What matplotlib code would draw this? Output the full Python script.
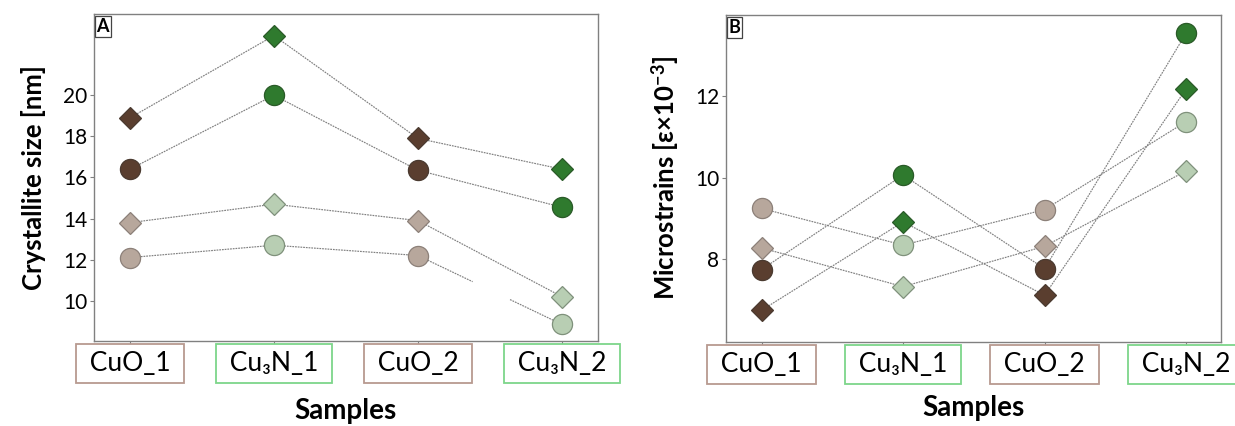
import numpy as np
import matplotlib
matplotlib.use('Agg')
import matplotlib.pyplot as plt

plt.rcParams['font.family'] = ['Lato', 'DejaVu Sans']
plt.rcParams['mathtext.fontset'] = 'custom'
plt.rcParams['mathtext.rm'] = 'Lato'
plt.rcParams['mathtext.it'] = 'Lato:italic'
plt.rcParams['mathtext.bf'] = 'Lato:bold'

# ---------------------------------------------------------------------------
# Data
# ---------------------------------------------------------------------------
samples = ['CuO_1', 'Cu₃N_1', 'CuO_2', 'Cu₃N_2']
is_nitride = [False, True, False, True]

# panel A: crystallite size [nm]
size_dark_diamond  = [18.9, 22.9, 17.9, 16.4]
size_dark_circle   = [16.4, 20.0, 16.35, 14.55]
size_light_diamond = [13.8, 14.7, 13.9, 10.2]
size_light_circle  = [12.1, 12.7, 12.2, 8.85]

# panel B: microstrains [x1e-3]
strain_dark_circle   = [7.75, 10.07, 7.77, 13.55]
strain_dark_diamond  = [6.75, 8.92, 7.12, 12.18]
strain_light_circle  = [9.25, 8.35, 9.22, 11.38]
strain_light_diamond = [8.28, 7.33, 8.32, 10.17]

# ---------------------------------------------------------------------------
# Style
# ---------------------------------------------------------------------------
DARK_BROWN  = '#5a3e2f'
LIGHT_BROWN = '#b7a79c'
DARK_GREEN  = '#2f7a2e'
LIGHT_GREEN = '#b8ceb3'
EDGE_DARK   = '#4a3a30'
EDGE_LIGHT  = '#8c8079'
LINE_COL    = '#808080'
BOX_CuO     = '#b89a90'
BOX_Cu3N    = '#7dd68a'
SPINE_COL   = '#808080'
LS          = (0, (1.5, 0.8))

x = np.arange(len(samples))


def series(ax, vals, marker, dark, gap=None):
    vals = np.asarray(vals, dtype=float)
    if gap is None:
        ax.plot(x, vals, ls=LS, lw=0.85, color=LINE_COL, zorder=1)
    else:
        # last segment is broken in the original figure
        ax.plot(x[:-1], vals[:-1], ls=LS, lw=0.85, color=LINE_COL, zorder=1)
        f0, f1 = gap
        xa, xb = x[-2], x[-1]
        ya, yb = vals[-2], vals[-1]
        ax.plot([xa, xa + f0 * (xb - xa)], [ya, ya + f0 * (yb - ya)],
                ls=LS, lw=0.85, color=LINE_COL, zorder=1)
        ax.plot([xa + f1 * (xb - xa), xb], [ya + f1 * (yb - ya), yb],
                ls=LS, lw=0.85, color=LINE_COL, zorder=1)
    for xi, v, nit in zip(x, vals, is_nitride):
        if dark:
            fc = DARK_GREEN if nit else DARK_BROWN
            ec = '#2a5a28' if nit else EDGE_DARK
        else:
            fc = LIGHT_GREEN if nit else LIGHT_BROWN
            ec = '#7f917b' if nit else EDGE_LIGHT
        ms = 11.2 if marker == 'D' else 14.5
        ax.plot(xi, v, marker=marker, ms=ms, mfc=fc, mec=ec, mew=0.9,
                ls='none', zorder=3)


def style_axes(ax, letter, ylabel, ylim, yticks, ylabelpad, xlabelpad):
    ax.set_xlim(-0.25, 3.25)
    ax.set_ylim(*ylim)
    ax.set_yticks(yticks)
    ax.set_xticks(x)
    ax.set_xticklabels([' ' + s + ' ' for s in samples])
    for sp in ax.spines.values():
        sp.set_color(SPINE_COL)
        sp.set_linewidth(1.0)
    ax.tick_params(axis='y', labelsize=15, length=3, width=0.8, color=SPINE_COL, pad=2)
    ax.tick_params(axis='x', labelsize=19, length=3, width=0.8, color=SPINE_COL, pad=4.5)
    for lbl, nit in zip(ax.get_xticklabels(), is_nitride):
        lbl.set_bbox(dict(boxstyle='square,pad=0.27', facecolor='white',
                          edgecolor=BOX_Cu3N if nit else BOX_CuO, linewidth=1.3))
    ax.set_ylabel(ylabel, fontsize=18.5, fontweight='bold', labelpad=ylabelpad)
    ax.set_xlabel('Samples', fontsize=20, fontweight='bold', labelpad=xlabelpad)
    ax.text(0.005, 0.988, letter, transform=ax.transAxes, ha='left', va='top',
            fontsize=13, fontweight='bold',
            bbox=dict(boxstyle='square,pad=0.1', facecolor='white',
                      edgecolor='#444444', linewidth=0.9))


fig = plt.figure(figsize=(12.35, 4.26), dpi=100)
axA = fig.add_axes([0.0761, 0.200, 0.408, 0.767])
axB = fig.add_axes([0.5880, 0.198, 0.401, 0.767])

series(axA, size_dark_diamond, 'D', True)
series(axA, size_dark_circle, 'o', True)
series(axA, size_light_diamond, 'D', False)
series(axA, size_light_circle, 'o', False, gap=(0.38, 0.64))
style_axes(axA, 'A', 'Crystallite size [nm]', (8.05, 23.95),
           [10, 12, 14, 16, 18, 20], 12, 16)

series(axB, strain_dark_circle, 'o', True)
series(axB, strain_dark_diamond, 'D', True)
series(axB, strain_light_circle, 'o', False)
series(axB, strain_light_diamond, 'D', False)
style_axes(axB, 'B', r'Microstrains [ε×10$^{\mathbf{-3}}$]', (5.98, 14.0),
           [8, 10, 12], 10, 13)

fig.savefig('out.png', dpi=100)
